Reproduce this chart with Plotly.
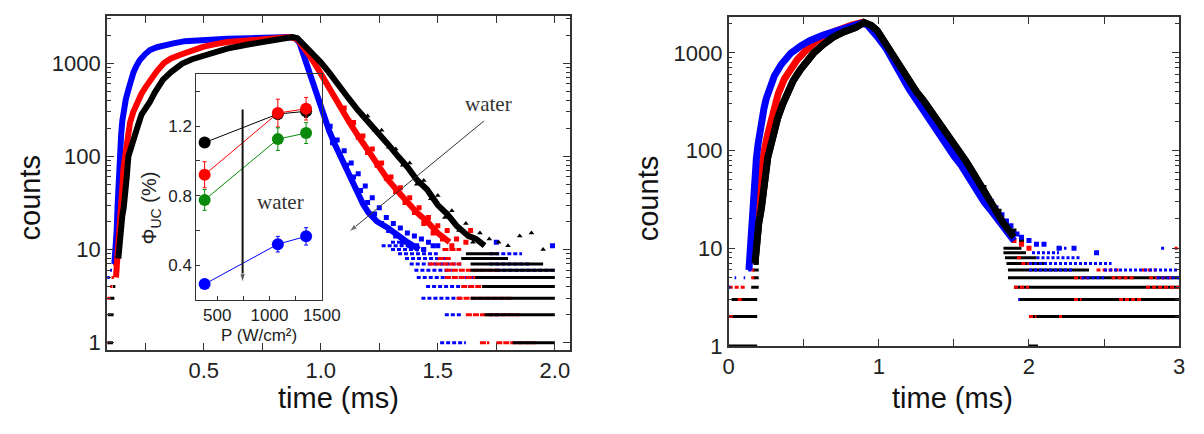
import math
import plotly.graph_objects as go

W, H = 1204, 434

# ---------------- Left panel: main decay curves (time ms, counts) ----------------
L_blue_t = [0.118, 0.124, 0.128, 0.132, 0.136, 0.140, 0.147, 0.152, 0.157, 0.167, 0.178, 0.190, 0.200, 0.213,
            0.227, 0.250, 0.270, 0.300, 0.330, 0.370, 0.420, 0.500, 0.600, 0.700, 0.800, 0.870, 0.895, 0.910,
            0.925, 0.938, 0.952, 0.965, 0.980, 0.994, 1.010, 1.036, 1.060, 1.078, 1.100, 1.120, 1.140, 1.161,
            1.180, 1.203, 1.240, 1.287, 1.330, 1.370, 1.420]
L_blue_c = [7, 10, 16, 30, 60, 100, 170, 240, 300, 410, 520, 680, 800, 940,
            1080, 1250, 1380, 1480, 1560, 1630, 1720, 1790, 1820, 1850, 1880, 1910, 1820, 1620,
            1250, 1000, 790, 620, 470, 355, 280, 187, 135, 107, 82, 66, 50, 38,
            31, 25, 20, 17, 14, 12, 10]

L_red_t = [0.125, 0.135, 0.142, 0.148, 0.153, 0.157, 0.164, 0.175, 0.185, 0.199, 0.215, 0.234, 0.253, 0.275,
           0.300, 0.330, 0.360, 0.400, 0.450, 0.500, 0.550, 0.600, 0.700, 0.800, 0.870, 0.900, 0.930, 0.952,
           0.990, 1.036, 1.080, 1.120, 1.160, 1.203, 1.245, 1.287, 1.330, 1.370, 1.410, 1.454, 1.500, 1.550]
L_red_c = [5, 10, 20, 35, 50, 75, 100, 160, 230, 300, 380, 470, 560, 680,
           820, 1000, 1120, 1230, 1380, 1500, 1600, 1680, 1760, 1840, 1900, 1800, 1450, 1200,
           850, 527, 350, 237, 165, 116, 80, 56, 42, 32, 25, 20, 15, 12]

L_black_t = [0.135, 0.140, 0.145, 0.152, 0.158, 0.164, 0.171, 0.178, 0.190, 0.200, 0.215, 0.234, 0.250, 0.269,
             0.290, 0.310, 0.325, 0.360, 0.408, 0.450, 0.520, 0.600, 0.700, 0.800, 0.880, 0.900, 0.952, 1.000,
             1.036, 1.080, 1.120, 1.160, 1.203, 1.245, 1.287, 1.330, 1.370, 1.410, 1.454, 1.500, 1.540, 1.580,
             1.630, 1.663, 1.700]
L_black_c = [8, 12, 18, 23, 28, 37, 60, 100, 130, 160, 200, 280, 320, 380,
             480, 580, 660, 800, 990, 1100, 1250, 1430, 1600, 1760, 1900, 1850, 1375, 1020,
             790, 580, 415, 310, 237, 180, 135, 100, 77, 56, 44, 30, 24, 18,
             14, 13, 11]

# scattered (noisy) points
L_blue_st = [1.04, 1.05, 1.07, 1.08, 1.10, 1.11, 1.13, 1.14, 1.16, 1.17, 1.19, 1.20, 1.22, 1.23, 1.25,
             1.26, 1.28, 1.29, 1.31, 1.32, 1.34, 1.35, 1.37, 1.38, 1.40, 1.41, 1.43, 1.44, 1.46, 1.48,
             1.50, 1.75, 1.99]
L_blue_sc = [210, 140, 150, 105, 115, 80, 85, 60, 65, 43, 48, 32, 36, 24, 28,
             19, 22, 16, 19, 14, 17, 12, 15, 11, 14, 11, 13, 10, 12, 11,
             11, 12, 11]
L_red_st = [1.10, 1.12, 1.14, 1.16, 1.18, 1.20, 1.22, 1.24, 1.26, 1.28, 1.30, 1.32, 1.34, 1.36, 1.38,
            1.40, 1.42, 1.44, 1.46, 1.48, 1.50, 1.52, 1.54, 1.56, 1.58, 1.62, 1.64]
L_red_sc = [330, 240, 230, 160, 165, 110, 120, 80, 85, 58, 60, 42, 46, 32, 36,
            25, 28, 19, 22, 15, 18, 13, 16, 11, 13, 12, 16]
L_black_st = [1.20, 1.23, 1.26, 1.29, 1.32, 1.35, 1.38, 1.41, 1.44, 1.47, 1.50, 1.53, 1.56, 1.59, 1.62,
              1.65, 1.68, 1.72, 1.76, 1.80, 1.85, 1.90, 1.95]
L_black_sc = [270, 190, 190, 125, 120, 80, 85, 50, 55, 35, 38, 22, 26, 16, 19,
              12, 15, 13, 12, 11, 14, 15, 10]

# integer-count streaks: (count level, t start, t end)
L_blue_bands = [(5, 0.088, 0.098), (6, 0.100, 0.108), (8, 0.108, 0.114), (9, 0.112, 0.118),
                (12, 1.30, 1.36), (11, 1.26, 1.40), (10, 1.30, 1.45), (9, 1.33, 1.50), (9, 1.72, 1.86),
                (8, 1.36, 1.55), (8, 1.66, 1.80), (7, 1.38, 1.60), (7, 1.72, 1.90), (6, 1.40, 1.56),
                (6, 1.75, 2.00), (5, 1.41, 1.66), (5, 1.90, 2.00), (4, 1.45, 1.64), (3, 1.43, 1.60),
                (2, 1.53, 1.60), (2, 1.72, 1.76), (1, 1.51, 1.62)]
L_red_bands = [(1, 0.088, 0.095), (3, 0.088, 0.100), (4, 0.100, 0.110), (5, 0.106, 0.116), (7, 0.112, 0.120),
               (1, 1.68, 1.72), (1, 1.75, 1.92), (2, 1.62, 1.85), (3, 1.58, 1.82), (4, 1.60, 1.75),
               (4, 1.88, 1.96), (5, 1.53, 1.80), (6, 1.53, 1.76), (7, 1.46, 1.60), (8, 1.50, 1.56),
               (10, 1.52, 1.60)]
L_black_bands = [(1, 0.090, 0.112), (2, 0.090, 0.115), (3, 0.100, 0.118), (4, 0.112, 0.122), (6, 0.116, 0.125),
                 (7, 0.120, 0.128), (9, 0.124, 0.132),
                 (1, 1.82, 2.00), (2, 1.70, 2.00), (3, 1.64, 2.00), (4, 1.69, 2.00), (5, 1.66, 2.00),
                 (6, 1.64, 2.00), (7, 1.64, 1.95), (8, 1.60, 1.80), (9, 1.62, 1.76)]

# ---------------- Inset: quantum yield vs power ----------------
P = [380, 1080, 1350]
phi_black = [1.105, 1.270, 1.285]
phi_black_err = [0.02, 0.03, 0.035]
phi_red = [0.920, 1.275, 1.300]
phi_red_err = [0.075, 0.080, 0.065]
phi_green = [0.775, 1.125, 1.160]
phi_green_err = [0.060, 0.065, 0.060]
phi_blue = [0.290, 0.520, 0.565]
phi_blue_err = [0.020, 0.045, 0.050]

# ---------------- Right panel ----------------
R_blue_t = [0.135, 0.141, 0.153, 0.163, 0.174, 0.185, 0.196, 0.207, 0.218, 0.235, 0.250, 0.275, 0.304, 0.350,
            0.413, 0.480, 0.543, 0.630, 0.717, 0.800, 0.880, 0.920, 0.950, 1.000, 1.050, 1.100, 1.150, 1.200,
            1.250, 1.300, 1.350, 1.400, 1.450, 1.500, 1.550, 1.600, 1.650, 1.700, 1.750, 1.800, 1.850, 1.900]
R_blue_c = [6, 8.7, 22, 35, 55, 85, 117, 155, 200, 270, 340, 450, 580, 760,
            990, 1180, 1340, 1520, 1690, 1850, 2000, 1950, 1750, 1400, 1100, 800, 560, 430,
            330, 250, 190, 150, 115, 88, 70, 52, 40, 30, 24, 19, 15, 12]

R_red_t = [0.165, 0.174, 0.185, 0.196, 0.207, 0.218, 0.240, 0.260, 0.280, 0.304, 0.330, 0.370, 0.410, 0.456,
           0.520, 0.587, 0.660, 0.739, 0.820, 0.890, 0.930, 1.000, 1.100, 1.200, 1.300, 1.400, 1.500, 1.600,
           1.700, 1.800, 1.850, 1.900]
R_red_c = [10, 17, 25, 35, 50, 69, 105, 147, 200, 290, 380, 537, 680, 850,
           1080, 1340, 1560, 1750, 1920, 2050, 1950, 1550, 850, 480, 300, 190, 110, 62,
           36, 20, 16, 13]

R_black_t = [0.175, 0.185, 0.200, 0.218, 0.230, 0.239, 0.260, 0.283, 0.305, 0.326, 0.360, 0.391, 0.430, 0.478,
             0.520, 0.565, 0.630, 0.696, 0.770, 0.848, 0.900, 0.950, 0.989, 1.050, 1.119, 1.150, 1.200, 1.250,
             1.300, 1.380, 1.450, 1.510, 1.580, 1.640, 1.700, 1.770, 1.830, 1.900]
R_black_c = [7, 12, 18, 26, 40, 55, 85, 117, 165, 215, 300, 400, 520, 675,
             820, 990, 1220, 1450, 1650, 1820, 2050, 1900, 1690, 1200, 790, 660, 520, 400,
             320, 215, 150, 108, 78, 55, 38, 26, 18, 13]

R_blue_st = [1.45, 1.50, 1.55, 1.58, 1.62, 1.65, 1.68, 1.72, 1.75, 1.78, 1.82, 1.85, 1.88, 1.92, 1.95,
             2.00, 2.05, 2.10, 2.20, 2.30, 2.45]
R_blue_sc = [130, 100, 80, 62, 55, 46, 40, 34, 30, 26, 22, 19, 17, 14, 13,
             12, 11, 11, 10, 10, 9]
R_red_st = [1.45, 1.50, 1.55, 1.60, 1.65, 1.70, 1.75, 1.80, 1.85, 1.90, 1.95, 2.00]
R_red_sc = [120, 95, 70, 55, 42, 33, 25, 19, 15, 12, 11, 10]
R_black_st = [1.60, 1.65, 1.70, 1.75, 1.80, 1.85, 1.90, 1.95]
R_black_sc = [70, 48, 42, 30, 24, 17, 15, 12]

R_black_bands = [(1, 0.00, 0.19), (2, 0.00, 0.19), (3, 0.02, 0.19), (4, 0.15, 0.20), (5, 0.16, 0.20),
                 (6, 0.16, 0.20), (7, 0.165, 0.20), (8, 0.17, 0.20),
                 (1, 2.00, 2.06), (2, 2.00, 3.00), (3, 1.93, 3.00), (4, 1.90, 3.00), (5, 1.86, 3.00),
                 (6, 1.86, 2.40), (7, 1.85, 2.10), (8, 1.84, 2.05), (9, 1.83, 1.98), (10, 1.83, 1.95)]
R_red_bands = [(2, 0.00, 0.04), (3, 0.06, 0.10), (4, 0.00, 0.12), (5, 0.15, 0.17), (6, 0.15, 0.17),
               (2, 2.00, 2.05), (2, 2.20, 2.22), (3, 2.30, 2.35), (3, 2.60, 2.75), (4, 1.90, 2.00),
               (4, 2.78, 3.00), (5, 2.30, 2.40), (5, 2.55, 2.70), (5, 2.80, 2.95), (6, 2.45, 2.60),
               (6, 2.75, 2.85), (7, 1.95, 2.00), (8, 1.92, 1.96), (10, 2.97, 2.99)]
R_blue_bands = [(4, 0.00, 0.01), (5, 0.04, 0.05), (5, 0.10, 0.11), (6, 0.13, 0.15), (7, 0.135, 0.15),
                (8, 0.138, 0.15),
                (3, 1.93, 1.94), (5, 2.35, 2.50), (5, 2.85, 3.00), (6, 2.00, 2.30), (6, 2.50, 3.00),
                (7, 2.00, 2.55), (8, 2.05, 2.35), (9, 2.02, 2.20), (10, 2.20, 2.25), (10, 2.88, 2.90)]

# annotation arrows (tail -> head), in data units of their axes
L_arrow_t = [1.697, 1.121]
L_arrow_c = [239, 15.5]
inset_arrow_P = [743, 743]
inset_arrow_phi = [1.295, 0.30]

# tick positions / labels
L_xticks = [0.25, 0.5, 0.75, 1.0, 1.25, 1.5, 1.75, 2.0]
L_xlabels = ["", "0.5", "", "1.0", "", "1.5", "", "2.0"]
R_xticks = [0, 0.5, 1, 1.5, 2, 2.5, 3]
R_xlabels = ["0", "", "1", "", "2", "", "3"]
Y_decades = [1, 10, 100, 1000]
Y_dec_labels = ["1", "10", "100", "1000"]
Y_minor = [m * 10 ** k for k in range(0, 4) for m in range(2, 10)]
I_xticks = [500, 750, 1000, 1250, 1500]
I_xlabels = ["500", "", "1000", "", "1500"]
I_yticks = [0.4, 0.6, 0.8, 1.0, 1.2, 1.4]
I_ylabels = ["0.4", "", "0.8", "", "1.2", ""]

BLUE, RED, BLACK, GREEN = "#0000ff", "#ff0000", "#000000", "#0a8a0a"


def band_xy(bands):
    xs, ys = [], []
    for lvl, t0, t1 in bands:
        xs += [t0, t1, None]
        ys += [lvl, lvl, None]
    return xs, ys


fig = go.Figure()


def add_panel(xa, ya, curves, width, msize):
    for t, c, st, sc, bands, col, sym, dash in curves:
        bx, by = band_xy(bands)
        fig.add_trace(go.Scatter(x=bx, y=by, mode="lines", xaxis=xa, yaxis=ya,
                                 line=dict(color=col, width=3, dash=dash), connectgaps=False,
                                 showlegend=False, hoverinfo="skip"))
    for t, c, st, sc, bands, col, sym, dash in curves:
        fig.add_trace(go.Scatter(x=st, y=sc, mode="markers", xaxis=xa, yaxis=ya,
                                 marker=dict(color=col, size=msize, symbol=sym), showlegend=False))
        fig.add_trace(go.Scatter(x=t, y=c, mode="lines", xaxis=xa, yaxis=ya,
                                 line=dict(color=col, width=width), showlegend=False))


add_panel("x", "y", [
    (L_blue_t, L_blue_c, L_blue_st, L_blue_sc, L_blue_bands, BLUE, "square", "4px,2px"),
    (L_red_t, L_red_c, L_red_st, L_red_sc, L_red_bands, RED, "square", "6px,1px"),
    (L_black_t, L_black_c, L_black_st, L_black_sc, L_black_bands, BLACK, "triangle-up", "solid"),
], 6, 5)

add_panel("x2", "y2", [
    (R_black_t, R_black_c, R_black_st, R_black_sc, R_black_bands, BLACK, "square", "solid"),
    (R_red_t, R_red_c, R_red_st, R_red_sc, R_red_bands, RED, "square", "4px,2px"),
    (R_blue_t, R_blue_c, R_blue_st, R_blue_sc, R_blue_bands, BLUE, "square", "3px,2px"),
], 7, 5)

# black curve drawn on top in the right panel, as in the reference
fig.add_trace(go.Scatter(x=R_black_t, y=R_black_c, mode="lines", xaxis="x2", yaxis="y2",
                         line=dict(color=BLACK, width=7), showlegend=False))

# inset
for vals, errs, col in [(phi_black, phi_black_err, BLACK), (phi_red, phi_red_err, RED),
                        (phi_green, phi_green_err, GREEN), (phi_blue, phi_blue_err, BLUE)]:
    fig.add_trace(go.Scatter(x=P, y=vals, mode="lines+markers", xaxis="x3", yaxis="y3",
                             line=dict(color=col, width=1),
                             marker=dict(color=col, size=12),
                             error_y=dict(type="data", array=errs, color=col, thickness=1, width=2),
                             showlegend=False))

# arrows drawn as line traces ending in an arrow marker
fig.add_trace(go.Scatter(x=L_arrow_t, y=L_arrow_c, mode="lines+markers", xaxis="x", yaxis="y",
                         line=dict(color="#333", width=1),
                         marker=dict(symbol=["circle", "arrow"], size=[0, 9], angleref="previous",
                                     color="#333"),
                         showlegend=False, hoverinfo="skip"))
fig.add_trace(go.Scatter(x=inset_arrow_P, y=inset_arrow_phi, mode="lines+markers", xaxis="x3", yaxis="y3",
                         line=dict(color="#111", width=2),
                         marker=dict(symbol=["circle", "arrow"], size=[0, 9], angleref="previous",
                                     color="#111"),
                         showlegend=False, hoverinfo="skip"))

AX = "#333333"
TICKF = dict(family="Liberation Sans, Arial, sans-serif", size=22, color="#222")
SMALLF = dict(family="Liberation Sans, Arial, sans-serif", size=17, color="#222")


def px(x):
    return x / W


def py(y):
    return 1 - y / H


base = dict(showline=True, linecolor=AX, linewidth=1.5, mirror="ticks", ticks="inside", ticklen=7,
            tickcolor=AX, tickwidth=1.2, showgrid=False, zeroline=False, tickfont=TICKF,
            tickmode="array")
minor_y = dict(base, type="log", showticklabels=False, ticklen=4, tickvals=Y_minor, side="left")

L_xdom = [px(103), px(576)]
L_ydom = [py(361), py(17)]
R_xdom = [px(738), px(1198)]
R_ydom = [py(356.7), py(17.7)]
L_yrange = [-0.08, 3.5]
R_yrange = [0, 3.365]

fig.update_layout(
    width=W, height=H, margin=dict(l=0, r=0, t=0, b=0),
    paper_bgcolor="white", plot_bgcolor="rgba(0,0,0,0)",
    xaxis=dict(base, domain=L_xdom, range=[0.086, 2.065], tickvals=L_xticks, ticktext=L_xlabels, anchor="y"),
    yaxis=dict(base, type="log", domain=L_ydom, range=L_yrange, tickvals=Y_decades, ticktext=Y_dec_labels,
               anchor="x"),
    yaxis4=dict(minor_y, range=L_yrange, overlaying="y", anchor="x"),
    xaxis2=dict(base, domain=R_xdom, range=[0, 3.0], tickvals=R_xticks, ticktext=R_xlabels, anchor="y2"),
    yaxis2=dict(base, type="log", domain=R_ydom, range=R_yrange, tickvals=Y_decades, ticktext=Y_dec_labels,
                anchor="x2"),
    yaxis5=dict(minor_y, range=R_yrange, overlaying="y2", anchor="x2"),
    xaxis3=dict(domain=[px(194.3), px(322.7)], range=[300, 1502], anchor="y3", showline=True, mirror=True,
                linecolor=AX, linewidth=1, ticks="inside", ticklen=4, tickcolor=AX, tickmode="array",
                tickvals=I_xticks, ticktext=I_xlabels, showgrid=False, zeroline=False, tickfont=SMALLF),
    yaxis3=dict(domain=[py(309), py(76.3)], range=[0.2, 1.5], anchor="x3", showline=True, mirror=True,
                linecolor=AX, linewidth=1, ticks="inside", ticklen=4, tickcolor=AX, tickmode="array",
                tickvals=I_yticks, ticktext=I_ylabels, showgrid=False, zeroline=False, tickfont=SMALLF),
)

# invisible carriers so the minor-tick overlay axes are drawn
fig.add_trace(go.Scatter(x=L_xticks[:1], y=Y_decades[:1], xaxis="x", yaxis="y4", mode="markers",
                         marker=dict(opacity=0), showlegend=False, hoverinfo="skip"))
fig.add_trace(go.Scatter(x=R_xticks[1:2], y=Y_decades[:1], xaxis="x2", yaxis="y5", mode="markers",
                         marker=dict(opacity=0), showlegend=False, hoverinfo="skip"))

TF = dict(family="Liberation Sans, Arial, sans-serif", size=29, color="#111")
SERIF = dict(family="Liberation Serif, Times New Roman, serif", size=21, color="#333")
ann = [
    dict(x=px(24), y=py(204), text="counts", textangle=-90, font=TF),
    dict(x=px(340), y=py(410), text="time (ms)", font=TF),
    dict(x=px(655), y=py(205), text="counts", textangle=-90, font=TF),
    dict(x=px(967), y=py(410), text="time (ms)", font=TF),
    dict(x=px(148), y=py(214), text="Φ<sub>UC</sub> (%)", textangle=-90,
         font=dict(family="Liberation Sans, Arial, sans-serif", size=20, color="#222")),
    dict(x=px(258.5), y=py(346), text="P (W/cm²)", font=SMALLF),
    dict(x=px(492.5), y=py(107), text="water", font=SERIF),
    dict(x=px(280), y=py(208), text="water", font=SERIF),
]
for a in ann:
    a.update(xref="paper", yref="paper", showarrow=False, xanchor="center", yanchor="middle")
fig.update_layout(annotations=ann)

fig.write_html("out.html")
